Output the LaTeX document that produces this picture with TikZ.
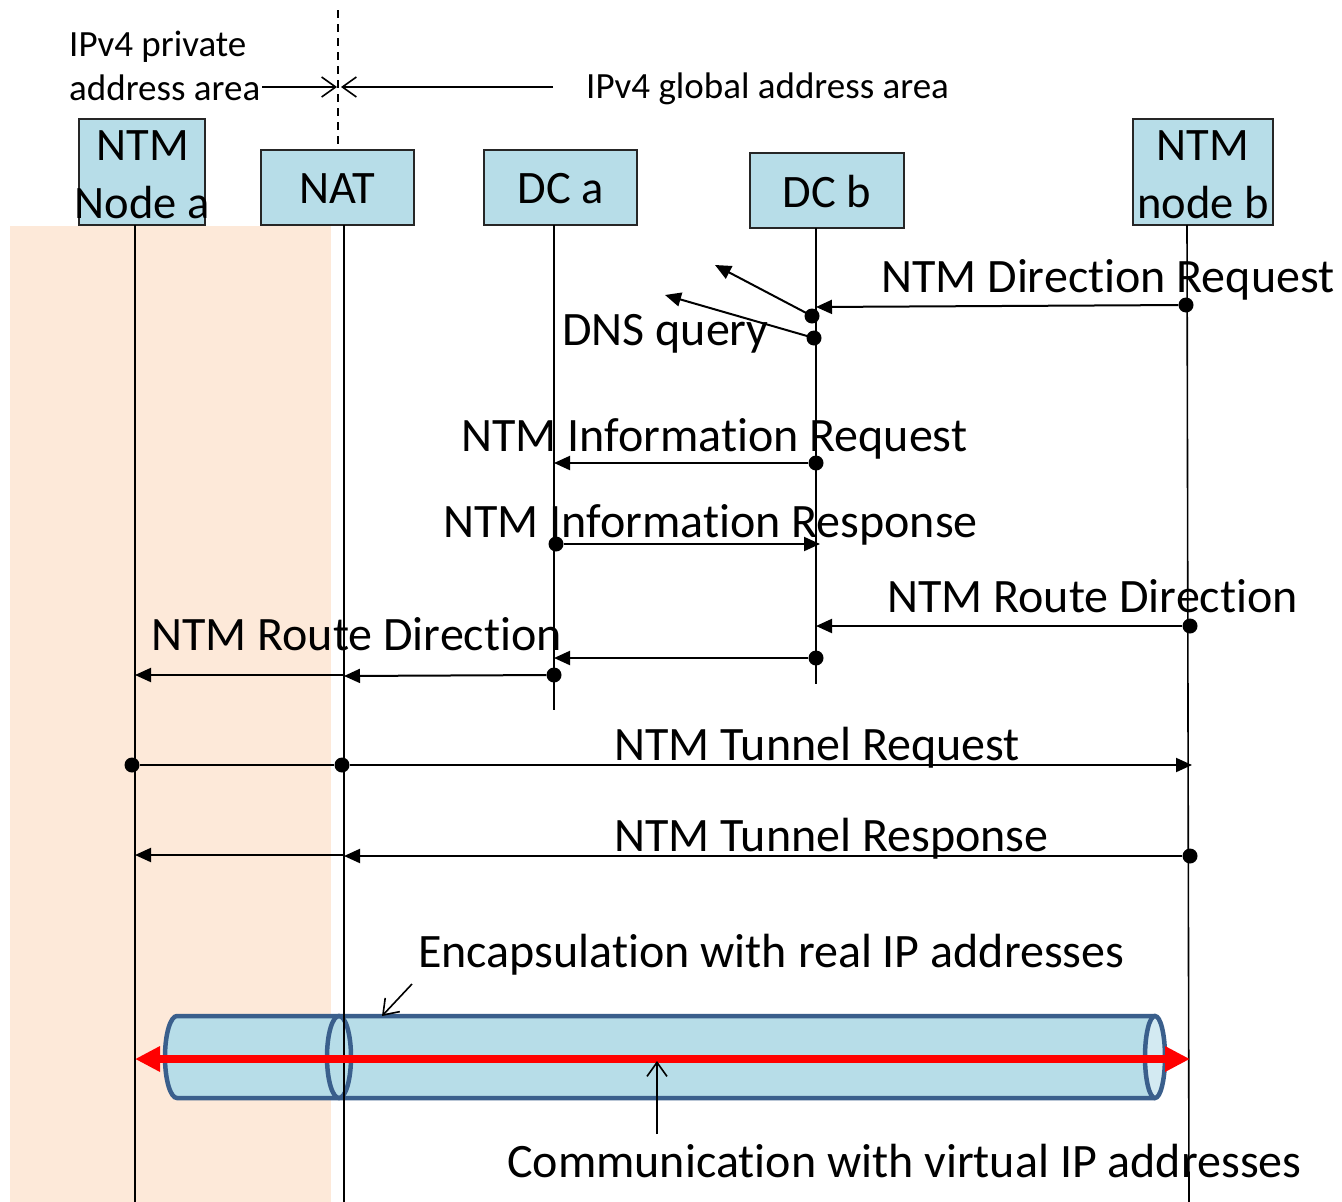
\documentclass[tikz,border=0pt]{standalone}
\usepackage{fontspec}
\setmainfont[Ligatures={NoCommon,NoRare,NoDiscretionary}]{Carlito}
\usetikzlibrary{arrows.meta}
\definecolor{boxfill}{HTML}{B7DDE8}
\definecolor{peach}{HTML}{FDE9D9}
\definecolor{tubeline}{HTML}{3A5F8C}
\definecolor{tubeface}{HTML}{D3EAF2}
\newcommand\lblfont{\fontsize{48}{57}\selectfont}
\newcommand\boxfont{\fontsize{46.5}{57}\selectfont}
\newcommand\smallfont{\fontsize{37}{44}\selectfont}
\tikzset{
  actor/.style={draw=black!85, line width=1.5pt, fill=boxfill, inner sep=0pt},
  boxtext/.style={inner sep=0pt, font=\boxfont, align=center},
  life/.style={line width=1.6pt, black},
  msg/.style={line width=2pt, -{Triangle[length=16pt,width=14pt]}},
  plain/.style={line width=2pt},
  dot/.style={circle, fill=black, inner sep=0pt, minimum size=15pt},
  lbl/.style={inner sep=0pt, anchor=base west, font=\lblfont},
  slbl/.style={inner sep=0pt, anchor=base west, font=\smallfont},
  barb/.style={line width=1.6pt, -{Straight Barb[length=14pt,width=20pt]}},
}
\begin{document}
\begin{tikzpicture}[x=1pt,y=-1pt]
\useasboundingbox[fill=white] (0,0) rectangle (1342,1202);
% private area background
\fill[peach] (10,226) rectangle (331,1202);
% area boundary
\draw[line width=1.5pt, dash pattern=on 8pt off 6pt] (338,10) -- (338,148);
\node[slbl] (t1) at (69,56) {IPv4 private};
\node[slbl] (t2) at (69,100) {address area};
\node[slbl] (t3) at (586,98) {IPv4 global address area};
\coordinate (pa0) at (262,87);
\coordinate (pa1) at (337,87);
\coordinate (ga0) at (553,87);
\coordinate (ga1) at (341,87);
\draw[barb] (pa0) -- (pa1);
\draw[barb] (ga0) -- (ga1);
% actors
\node[actor, minimum width=126pt, minimum height=106pt] (na) at (142,172) {};
\node[boxtext] (nat1) at (143,146) {NTM};
\node[boxtext] (nat2) at (142,203) {Node a};
\node[actor, minimum width=153pt, minimum height=75pt] (nat) at (337.5,187.5) {};
\node[boxtext] (natt) at (337.5,189) {NAT};
\node[actor, minimum width=153pt, minimum height=75pt] (dca) at (560.5,187.5) {};
\node[boxtext] (dcat) at (560.5,189) {DC a};
\node[actor, minimum width=154pt, minimum height=75pt] (dcb) at (827,190.5) {};
\node[boxtext] (dcbt) at (827,192) {DC b};
\node[actor, minimum width=140pt, minimum height=106pt] (nb) at (1203,172) {};
\node[boxtext] (nbt1) at (1203,146) {NTM};
\node[boxtext] (nbt2) at (1203,203) {node b};
% tunnel
\fill[boxfill] (177,1016) -- (1155,1016) -- (1155,1098) -- (177,1098)
   arc[start angle=270, end angle=90, x radius=12pt, y radius=41pt] -- cycle;
\draw[tubeline, line width=4.5pt] (1155,1016) -- (177,1016)
   arc[start angle=90, end angle=270, x radius=12pt, y radius=41pt] -- (1155,1098);
\draw[tubeline, line width=4.5pt] (339,1057) ellipse [x radius=12pt, y radius=41pt];
\filldraw[tubeline, fill=tubeface, line width=4.5pt] (1155,1057) ellipse [x radius=10pt, y radius=41pt];
% lifelines
\coordinate (la) at (135,1202);
\coordinate (lnat) at (344,1202);
\coordinate (ldca) at (554,710);
\coordinate (ldcb) at (816,684);
\coordinate (lnb) at (1189,1202);
\draw[life] (135,225) -- (la);
\draw[life] (344,225) -- (lnat);
\draw[life] (554,225) -- (ldca);
\draw[life] (816,228) -- (ldcb);
\draw[life] (1187,225) -- (lnb);
% NTM Direction Request
\node[dot] (d1) at (1186,305) {};
\coordinate (e1) at (816,307);
\draw[msg] (d1) -- (e1);
\node[lbl] (l1) at (881,292) {NTM Direction Request};
% DNS query
\node[dot] (d2a) at (812,316) {};
\node[dot] (d2b) at (814,338) {};
\coordinate (e2a) at (715,265);
\coordinate (e2b) at (665,295);
\draw[msg] (d2a.center) -- (e2a);
\draw[msg] (d2b.center) -- (e2b);
\node[lbl] (l2) at (562,345) {DNS query};
% NTM Information Request
\node[dot] (d3) at (816,463) {};
\coordinate (e3) at (554,463);
\draw[msg] (d3) -- (e3);
\node[lbl] (l3) at (461,451) {NTM Information Request};
% NTM Information Response
\node[dot] (d4) at (556,544) {};
\coordinate (e4) at (820,544);
\draw[msg] (d4) -- (e4);
\node[lbl] (l4) at (443,537) {NTM Information Response};
% NTM Route Direction
\node[dot] (d5) at (1190,626) {};
\coordinate (e5) at (816,626);
\draw[msg] (d5) -- (e5);
\node[lbl] (l5) at (887,612) {NTM Route Direction};
\node[dot] (d6) at (816,658) {};
\coordinate (e6) at (554,658);
\draw[msg] (d6) -- (e6);
\node[dot] (d7) at (554,675) {};
\coordinate (e7) at (344,676);
\coordinate (s7) at (344,675);
\coordinate (f7) at (135,675);
\draw[msg] (d7) -- (e7);
\draw[msg] (s7) -- (f7);
\node[lbl] (l7) at (151,650) {NTM Route Direction};
% NTM Tunnel Request
\node[dot] (d8a) at (132,765) {};
\node[dot] (d8b) at (342,765) {};
\coordinate (e8) at (1192,765);
\draw[plain] (d8a) -- (d8b);
\draw[msg] (d8b) -- (e8);
\node[lbl] (l8) at (614,760) {NTM Tunnel Request};
% NTM Tunnel Response
\node[dot] (d9) at (1190,856) {};
\coordinate (e9) at (344,856);
\coordinate (s9) at (344,855);
\coordinate (f9) at (135,855);
\draw[msg] (d9) -- (e9);
\draw[msg] (s9) -- (f9);
\node[lbl] (l9) at (614,851) {NTM Tunnel Response};
% virtual IP communication
\coordinate (r0) at (135,1059);
\coordinate (r1) at (1190,1059);
\draw[red, line width=8pt, {Triangle[length=25pt,width=24pt]}-{Triangle[length=25pt,width=24pt]}] (r0) -- (r1);
% annotations
\node[lbl] (l10) at (418,967) {Encapsulation with real IP addresses};
\coordinate (a10s) at (412,984);
\coordinate (a10e) at (382,1016);
\draw[barb] (a10s) -- (a10e);
\node[lbl] (l11) at (507,1177) {Communication with virtual IP addresses};
\coordinate (a11s) at (657,1134);
\coordinate (a11e) at (657,1061);
\draw[barb] (a11s) -- (a11e);
\end{tikzpicture}
\end{document}
